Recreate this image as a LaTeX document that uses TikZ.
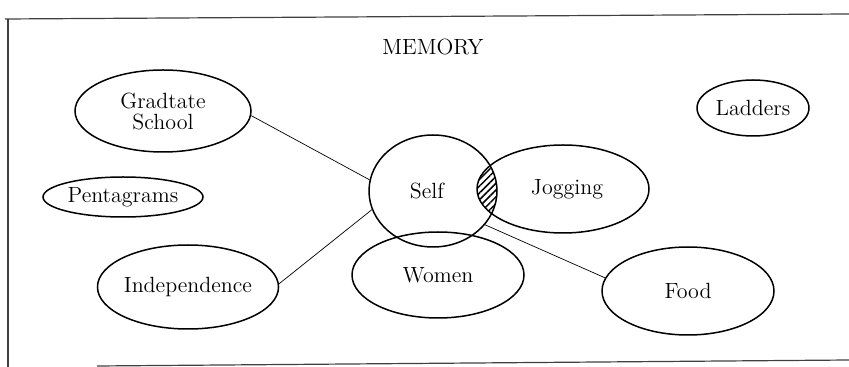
\documentclass[tikz,border=0pt]{standalone}
\usetikzlibrary{shapes.geometric,patterns.meta}
\begin{document}
\begin{tikzpicture}[x=0.5pt,y=-0.5pt,
  concept/.style={ellipse,draw=black,line width=0.75pt,inner sep=0pt,font=\fontsize{11}{12.5}\selectfont,align=center},
  link/.style={draw=black,line width=0.35pt},
  frameline/.style={draw=black!75,line width=0.6pt}]
\useasboundingbox (0,0) rectangle (849,367);
% frame
\draw[frameline] (5,19) -- (849,14);
\draw[frameline] (8,19) -- (8,367);
\draw[frameline] (97,366) -- (849,360);
\node[font=\fontsize{11}{12.5}\selectfont] (title) at (433,47) {MEMORY};
% hatched overlap of Self and Jogging
\begin{scope}
  \clip (433,191) ellipse [x radius=32pt, y radius=28pt];
  \fill[pattern={Lines[angle=45,distance=2.4pt,line width=0.75pt]}] (563,189) ellipse [x radius=43pt, y radius=22pt];
\end{scope}
\node[concept,minimum width=88pt,minimum height=41pt] (gs) at (163,111) {Gradtate\\[-2pt]School};
\node[concept,minimum width=80pt,minimum height=20pt] (pent) at (123,197) {Pentagrams};
\node[concept,minimum width=86pt,minimum height=42pt] (ind) at (188,287) {Independence};
\node[concept,minimum width=64pt,minimum height=56pt] (self) at (433,191) {\hspace*{-6pt}Self};
\node[concept,minimum width=86pt,minimum height=44pt] (jog) at (563,189) {\hspace*{4pt}Jogging};
\node[concept,minimum width=86pt,minimum height=43pt] (women) at (438,275) {Women};
\node[concept,minimum width=86pt,minimum height=44pt] (food) at (688,291) {Food};
\node[concept,minimum width=56pt,minimum height=28pt] (lad) at (753,108) {Ladders};
% connectors
\draw[link] (gs.-3) -- (self.170);
\draw[link] (ind.2) -- (self.197);
\draw[link] (self.-33) -- (food.171);
\end{tikzpicture}
\end{document}
